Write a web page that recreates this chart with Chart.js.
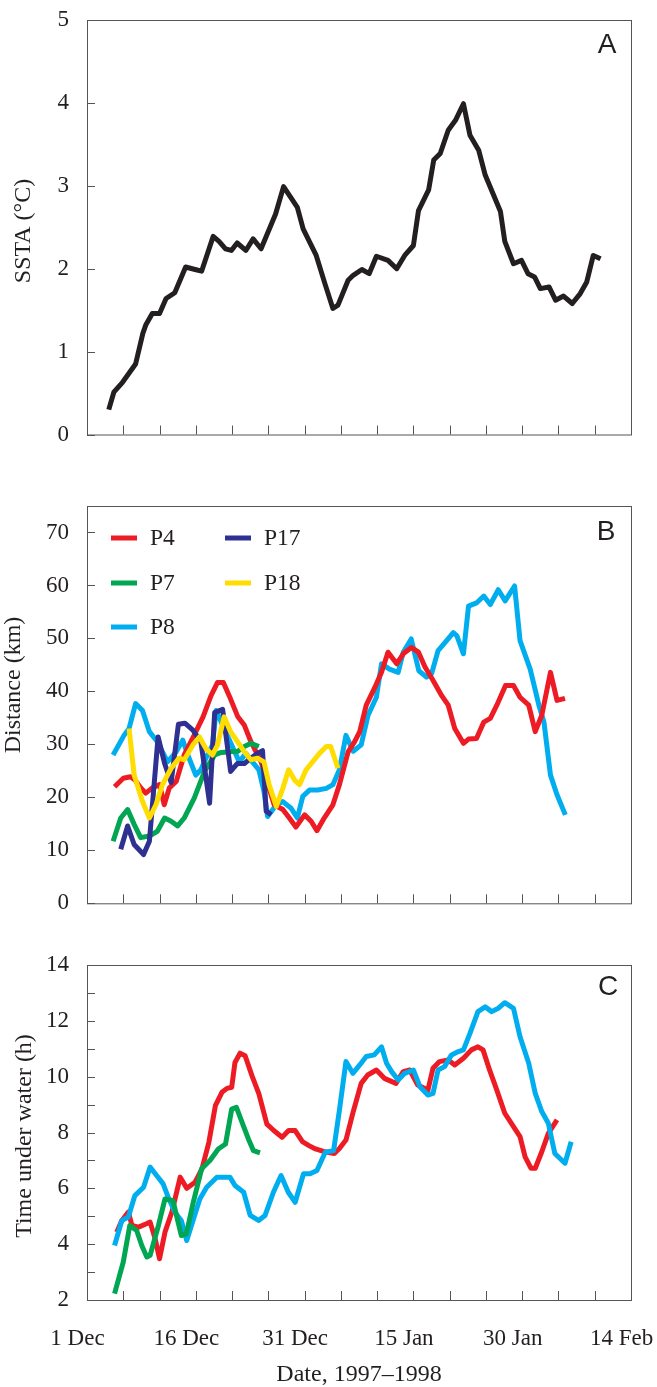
<!DOCTYPE html>
<html>
<head>
<meta charset="utf-8">
<script src="https://cdn.jsdelivr.net/npm/chart.js@4.4.1/dist/chart.umd.min.js"></script>
<style>
  html, body { margin: 0; padding: 0; background: #fff; }
  #wrap { position: relative; width: 657px; height: 1387px; }
  canvas { position: absolute; left: 0; }
</style>
</head>
<body>
<div id="wrap">
  <canvas id="panelA" width="657" height="470" style="top:0px"></canvas>
  <canvas id="panelB" width="657" height="460" style="top:470px"></canvas>
  <canvas id="panelC" width="657" height="457" style="top:930px"></canvas>
</div>
<script>
// x values are days since 1 Dec 1997
const dateTickDays = [0, 15, 30, 45, 60, 75];
const dateTickLabels = ['1 Dec', '16 Dec', '31 Dec', '15 Jan', '30 Jan', '14 Feb'];

// Panel A - SSTA (°C)
const sstaDays = [3.0, 3.7, 4.9, 6.7, 7.7, 8.1, 9.0, 10.0, 10.9, 12.1, 13.6, 14.9, 15.8, 17.4, 18.2, 19.1, 19.9, 20.7, 21.9, 22.9, 24.0, 26.0, 27.1, 29.0, 29.8, 31.6, 32.8, 33.9, 34.6, 36.0, 36.7, 37.9, 38.9, 39.9, 41.5, 42.7, 43.8, 45.0, 45.7, 47.1, 47.8, 48.7, 49.8, 50.8, 51.9, 52.8, 54.0, 54.9, 57.0, 57.6, 58.8, 59.9, 60.8, 61.7, 62.5, 63.7, 64.6, 65.7, 66.9, 68.0, 68.9, 69.8, 70.8];
const sstaValues = [0.30, 0.51, 0.63, 0.85, 1.22, 1.32, 1.46, 1.46, 1.64, 1.71, 2.02, 1.99, 1.97, 2.39, 2.33, 2.24, 2.22, 2.31, 2.22, 2.36, 2.24, 2.66, 2.99, 2.74, 2.48, 2.16, 1.82, 1.52, 1.56, 1.86, 1.92, 1.99, 1.94, 2.15, 2.10, 2.00, 2.16, 2.28, 2.70, 2.95, 3.31, 3.39, 3.67, 3.79, 3.99, 3.61, 3.43, 3.13, 2.69, 2.33, 2.06, 2.10, 1.94, 1.90, 1.76, 1.78, 1.62, 1.67, 1.58, 1.70, 1.84, 2.16, 2.12];

// Panel B - Distance (km)
const distP4Days = [3.8, 5.0, 6.0, 6.6, 7.4, 8.1, 9.0, 10.0, 10.65, 11.35, 12.3, 13.4, 14.8, 16.0, 17.1, 18.0, 18.8, 19.6, 20.8, 21.7, 22.6, 24.0, 25.1, 25.8, 27.0, 27.9, 28.8, 30.0, 30.9, 31.7, 32.7, 33.9, 34.8, 36.0, 36.9, 37.6, 38.5, 39.7, 40.6, 41.5, 42.7, 43.6, 44.7, 45.7, 46.6, 47.7, 48.9, 49.8, 50.7, 51.9, 52.6, 53.7, 54.7, 55.6, 56.5, 57.7, 58.8, 59.7, 60.9, 61.8, 62.7, 63.9, 64.8, 65.9];
const distP4Km = [22.0, 23.6, 23.9, 23.3, 21.8, 20.8, 21.8, 22.4, 18.6, 21.8, 23.0, 28.0, 31.8, 35.2, 39.2, 41.7, 41.7, 39.2, 35.2, 33.6, 30.5, 26.7, 21.7, 18.6, 17.7, 16.1, 14.4, 16.7, 15.5, 13.7, 16.1, 18.6, 22.4, 28.6, 30.5, 32.4, 37.4, 40.8, 43.6, 47.4, 45.2, 47.1, 48.3, 47.4, 44.6, 42.1, 39.2, 37.4, 33.0, 30.2, 31.0, 31.1, 34.2, 34.9, 37.4, 41.1, 41.1, 38.9, 37.4, 32.4, 35.5, 43.6, 38.3, 38.7];
const distP7Days = [3.6, 4.65, 5.6, 6.5, 7.4, 8.6, 9.7, 10.7, 11.6, 12.5, 13.4, 14.8, 16.2, 17.6, 18.3, 19.6, 20.8, 21.7, 22.6, 23.7];
const distP7Km = [11.7, 16.1, 17.7, 14.9, 12.4, 12.7, 13.6, 16.1, 15.5, 14.6, 16.1, 19.9, 24.9, 28.0, 28.4, 28.6, 28.7, 29.6, 30.2, 29.6];
const distP8Days = [3.6, 5.1, 5.8, 6.7, 7.65, 8.6, 9.7, 11.1, 12.3, 13.2, 13.9, 15.0, 15.7, 16.6, 17.3, 17.8, 18.9, 21.0, 21.9, 22.8, 23.7, 24.4, 24.9, 26.1, 27.0, 28.1, 29.0, 29.75, 30.7, 31.8, 33.0, 33.9, 34.8, 35.7, 36.7, 37.8, 38.75, 39.9, 40.6, 41.7, 42.9, 43.6, 44.7, 45.75, 46.8, 47.5, 48.4, 49.35, 50.5, 51.0, 51.9, 52.6, 53.7, 54.7, 55.6, 56.7, 57.65, 58.35, 58.95, 59.7, 61.1, 62.3, 63.0, 63.9, 64.8, 65.95];
const distP8Km = [28.0, 31.7, 33.0, 37.7, 36.4, 32.4, 30.5, 26.7, 28.6, 30.8, 28.0, 24.2, 25.2, 28.0, 29.9, 36.4, 33.0, 26.7, 28.3, 26.7, 25.2, 21.1, 16.4, 18.6, 19.2, 18.0, 16.1, 20.2, 21.4, 21.4, 21.7, 22.4, 25.2, 31.7, 28.7, 29.9, 35.5, 38.9, 45.2, 44.2, 43.6, 47.4, 49.9, 43.9, 42.7, 43.3, 47.7, 49.2, 51.1, 50.5, 47.1, 56.1, 56.7, 58.0, 56.4, 59.2, 57.1, 58.6, 59.9, 49.6, 44.2, 37.4, 34.2, 24.2, 20.5, 16.7];
const distP17Days = [4.65, 5.6, 6.5, 7.8, 8.6, 9.8, 10.7, 11.6, 12.6, 13.5, 14.6, 15.7, 16.9, 17.6, 18.7, 19.8, 20.75, 21.7, 22.6, 23.5, 24.2, 24.7, 25.4];
const distP17Km = [10.2, 14.6, 11.1, 9.2, 11.7, 31.4, 26.4, 22.8, 33.8, 34.0, 32.7, 30.5, 18.9, 36.0, 36.6, 24.9, 26.4, 26.4, 27.4, 28.3, 28.8, 17.4, 16.7];
const distP18Days = [5.8, 6.5, 7.65, 8.6, 9.5, 10.4, 11.6, 12.7, 13.4, 14.6, 15.5, 16.4, 17.3, 18.0, 18.9, 19.8, 20.75, 21.7, 22.6, 23.5, 24.4, 25.1, 26.1, 27.0, 27.8, 28.6, 29.3, 30.2, 31.1, 32.05, 33.0, 33.6, 34.6];
const distP18Km = [33.0, 24.2, 19.2, 16.1, 18.6, 22.4, 25.5, 27.4, 27.1, 29.9, 31.4, 29.2, 28.0, 29.9, 35.2, 32.4, 30.5, 28.6, 27.1, 27.4, 26.7, 22.4, 18.3, 21.7, 25.2, 23.3, 22.4, 25.2, 26.7, 28.3, 29.6, 29.6, 25.5];

// Panel C - Time under water (h)
const timeP4Days = [4.1, 4.8, 5.7, 6.2, 7.1, 8.2, 8.7, 9.4, 10.0, 10.75, 11.7, 12.85, 13.75, 14.9, 15.85, 16.8, 17.7, 18.6, 19.3, 19.95, 20.4, 21.1, 21.8, 22.75, 23.7, 24.8, 25.75, 26.9, 27.8, 28.7, 29.7, 30.6, 31.5, 32.6, 34.1, 34.8, 35.7, 36.65, 37.8, 38.7, 39.9, 41.0, 42.6, 43.6, 44.5, 45.6, 47.0, 47.7, 48.6, 49.8, 50.7, 51.9, 53.0, 53.9, 54.6, 55.5, 56.5, 57.6, 58.8, 59.7, 60.4, 61.2, 61.8, 62.7, 63.6, 64.8];
const timeP4Hours = [4.43, 4.85, 5.15, 4.67, 4.61, 4.73, 4.79, 4.19, 3.48, 4.43, 5.15, 6.40, 6.00, 6.22, 6.70, 7.65, 8.96, 9.44, 9.58, 9.62, 10.51, 10.84, 10.75, 10.03, 9.38, 8.30, 8.07, 7.83, 8.07, 8.07, 7.67, 7.53, 7.41, 7.32, 7.25, 7.43, 7.73, 8.69, 9.76, 10.06, 10.24, 9.94, 9.76, 10.18, 10.24, 9.70, 9.52, 10.30, 10.54, 10.60, 10.42, 10.66, 10.96, 11.07, 10.96, 10.24, 9.52, 8.69, 8.21, 7.85, 7.13, 6.72, 6.72, 7.31, 7.97, 8.45];
const timeP7Days = [3.8, 5.0, 5.9, 6.85, 7.55, 8.25, 8.7, 9.85, 10.75, 11.85, 13.0, 13.7, 14.65, 15.8, 16.95, 18.1, 19.1, 19.95, 20.6, 21.55, 22.25, 22.95, 23.85];
const timeP7Hours = [2.23, 3.36, 4.67, 4.49, 3.95, 3.54, 3.60, 4.67, 5.62, 5.56, 4.31, 4.37, 5.50, 6.70, 7.00, 7.41, 7.59, 8.84, 8.90, 8.25, 7.77, 7.35, 7.27];
const timeP8Days = [3.8, 4.8, 5.7, 6.6, 7.8, 8.7, 9.6, 10.5, 11.2, 12.1, 13.0, 13.75, 15.55, 16.5, 17.9, 18.8, 19.7, 20.4, 21.6, 22.5, 23.65, 24.55, 25.7, 26.75, 27.75, 28.7, 29.85, 30.75, 31.7, 32.85, 34.0, 34.8, 35.7, 36.65, 37.6, 38.5, 39.6, 40.6, 41.3, 42.0, 42.9, 43.8, 45.0, 45.9, 47.0, 47.7, 48.4, 49.3, 50.25, 51.2, 51.9, 52.8, 53.9, 54.9, 55.8, 56.7, 57.6, 58.8, 59.7, 60.9, 61.8, 62.7, 63.6, 64.5, 65.9, 66.75];
const timeP8Hours = [3.95, 4.85, 4.97, 5.74, 6.04, 6.76, 6.46, 6.16, 5.68, 5.15, 4.85, 4.13, 5.62, 6.04, 6.40, 6.40, 6.40, 6.10, 5.86, 5.03, 4.85, 5.03, 5.86, 6.46, 5.86, 5.50, 6.52, 6.52, 6.64, 7.29, 7.35, 8.80, 10.54, 10.12, 10.42, 10.72, 10.78, 11.07, 10.48, 10.18, 9.88, 10.12, 10.24, 9.64, 9.34, 9.40, 10.24, 10.36, 10.78, 10.90, 10.96, 11.55, 12.33, 12.50, 12.33, 12.45, 12.65, 12.45, 11.43, 10.48, 9.40, 8.75, 8.33, 7.25, 6.90, 7.67];

const colors = {
  SSTA: '#231F20',
  P4: '#ED1C24',
  P7: '#00A651',
  P8: '#00AEEF',
  P17: '#2E3192',
  P18: '#FFDD00'
};

Chart.defaults.font.family = "'Liberation Serif', 'Times New Roman', serif";
Chart.defaults.color = '#231F20';

function toPoints(days, values) {
  return days.map((d, i) => ({ x: d, y: values[i] }));
}

// lower order is drawn on top
function lineSet(label, days, values, order) {
  return {
    label: label,
    data: toPoints(days, values),
    borderColor: colors[label],
    backgroundColor: colors[label],
    borderWidth: 5,
    borderJoinStyle: 'round',
    pointRadius: 0,
    tension: 0,
    fill: false,
    order: order
  };
}

// frame, inward tick marks, axis titles, panel letter and legend
const panelDecor = {
  id: 'panelDecor',
  beforeDatasetsDraw(chart) {
    const { ctx, chartArea: a, scales } = chart;
    ctx.save();
    ctx.strokeStyle = '#555';
    ctx.lineWidth = 1;
    ctx.strokeRect(a.left + 0.5, a.top + 0.5, a.right - a.left, a.bottom - a.top);
    ctx.beginPath();
    scales.x.ticks.forEach(t => {
      const px = Math.round(scales.x.getPixelForValue(t.value)) + 0.5;
      ctx.moveTo(px, a.bottom);
      ctx.lineTo(px, a.bottom - 9);
    });
    scales.y.ticks.forEach(t => {
      const py = Math.round(scales.y.getPixelForValue(t.value)) + 0.5;
      ctx.moveTo(a.left, py);
      ctx.lineTo(a.left + 8, py);
    });
    ctx.stroke();
    ctx.restore();
  },
  afterDraw(chart, args, opts) {
    const ctx = chart.ctx;
    ctx.save();
    ctx.fillStyle = '#231F20';
    ctx.textAlign = 'center';
    ctx.textBaseline = 'middle';
    ctx.font = "24px 'Liberation Serif', 'Times New Roman', serif";

    if (opts.yTitle) {
      ctx.save();
      ctx.translate(opts.yTitle.x, opts.yTitle.y);
      ctx.rotate(-Math.PI / 2);
      ctx.fillText(opts.yTitle.text, 0, 0);
      ctx.restore();
    }
    if (opts.xTitle) {
      ctx.fillText(opts.xTitle.text, opts.xTitle.x, opts.xTitle.y);
    }
    if (opts.letter) {
      ctx.font = "28px 'Liberation Sans', Arial, sans-serif";
      ctx.textBaseline = 'alphabetic';
      ctx.fillText(opts.letter.text, opts.letter.x, opts.letter.y);
    }
    if (opts.legend) {
      const L = opts.legend;
      ctx.font = "23.5px 'Liberation Serif', 'Times New Roman', serif";
      ctx.textAlign = 'left';
      ctx.textBaseline = 'middle';
      L.order.forEach((name, i) => {
        const ds = chart.data.datasets.find(d => d.label === name);
        const col = Math.floor(i / L.perColumn);
        const row = i % L.perColumn;
        const x = L.x[col];
        const y = L.y[row];
        ctx.strokeStyle = ds.borderColor;
        ctx.lineWidth = 5;
        ctx.beginPath();
        ctx.moveTo(x, y);
        ctx.lineTo(x + L.lineLength, y);
        ctx.stroke();
        ctx.fillStyle = '#231F20';
        ctx.fillText(name, x + L.textGap, y + 1);
      });
    }
    ctx.restore();
  }
};

function makePanel(id, datasets, yCfg, frame, decor) {
  return new Chart(document.getElementById(id), {
    type: 'line',
    data: { datasets: datasets },
    options: {
      responsive: false,
      animation: false,
      layout: { padding: { top: frame.top, right: 26, left: 0, bottom: 0 } },
      plugins: {
        legend: { display: false },
        tooltip: { enabled: false },
        panelDecor: decor
      },
      scales: {
        x: {
          type: 'linear',
          min: 0,
          max: 75,
          grid: { display: false },
          border: { display: false },
          ticks: {
            stepSize: 5,
            autoSkip: false,
            maxRotation: 0,
            includeBounds: false,
            padding: 17,
            labelOffset: -9.5,
            font: { size: 23 },
            callback: v => {
              if (!frame.showDates) return '';
              const k = dateTickDays.indexOf(v);
              return k >= 0 ? dateTickLabels[k] : '';
            }
          },
          afterFit: s => {
            s.height = frame.xHeight;
            s.paddingLeft = 0;
            s.paddingRight = 0;
          }
        },
        y: {
          min: yCfg.min,
          max: yCfg.max,
          grid: { display: false },
          border: { display: false },
          ticks: {
            stepSize: yCfg.step,
            autoSkip: false,
            includeBounds: false,
            padding: 10,
            font: { size: 23 },
            callback: v => (v % yCfg.labelEvery === 0 ? String(v) : '')
          },
          afterFit: s => {
            s.width = 87;
            s.paddingTop = 0;
            s.paddingBottom = 0;
          }
        }
      }
    },
    plugins: [panelDecor]
  });
}

makePanel('panelA',
  [lineSet('SSTA', sstaDays, sstaValues, 1)],
  { min: 0, max: 5, step: 1, labelEvery: 1 },
  { top: 20, xHeight: 35.5, showDates: false },
  {
    yTitle: { text: 'SSTA (°C)', x: 24, y: 231 },
    letter: { text: 'A', x: 607, y: 53 }
  });

makePanel('panelB',
  [
    lineSet('P4', distP4Days, distP4Km, 4),
    lineSet('P7', distP7Days, distP7Km, 3),
    lineSet('P8', distP8Days, distP8Km, 5),
    lineSet('P17', distP17Days, distP17Km, 2),
    lineSet('P18', distP18Days, distP18Km, 1)
  ],
  { min: 0, max: 75, step: 10, labelEvery: 10 },
  { top: 36, xHeight: 26.7, showDates: false },
  {
    yTitle: { text: 'Distance (km)', x: 14, y: 215 },
    letter: { text: 'B', x: 606, y: 70 },
    legend: {
      order: ['P4', 'P7', 'P8', 'P17', 'P18'],
      perColumn: 3,
      x: [111, 225],
      y: [68, 113, 157],
      lineLength: 26,
      textGap: 39
    }
  });

makePanel('panelC',
  [
    lineSet('P4', timeP4Days, timeP4Hours, 3),
    lineSet('P7', timeP7Days, timeP7Hours, 1),
    lineSet('P8', timeP8Days, timeP8Hours, 2)
  ],
  { min: 2, max: 14, step: 1, labelEvery: 2 },
  { top: 35, xHeight: 87, showDates: true },
  {
    yTitle: { text: 'Time under water (h)', x: 25, y: 206 },
    xTitle: { text: 'Date, 1997–1998', x: 359, y: 445 },
    letter: { text: 'C', x: 608, y: 65 }
  });
</script>
</body>
</html>
